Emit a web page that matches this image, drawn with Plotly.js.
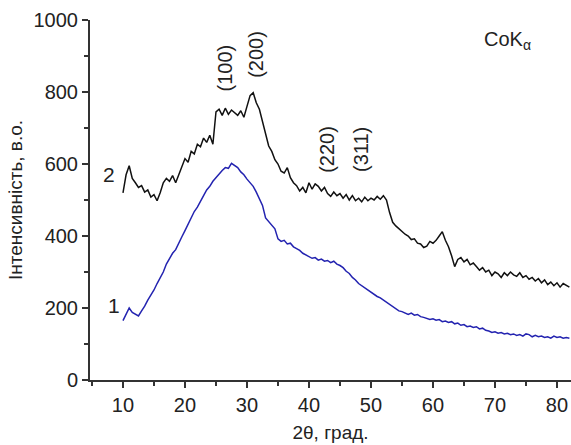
<!DOCTYPE html>
<html>
<head>
<meta charset="utf-8">
<script src="https://cdn.plot.ly/plotly-3.0.1.min.js"></script>
<style>html,body{margin:0;padding:0;background:#fff;}#chart{width:571px;height:445px;}</style>
</head>
<body>
<div id="chart"></div>
<script>
// 2θ angles (degrees) for both patterns
const twoTheta = [10,10.5,11,11.5,12,12.5,13,13.5,14,14.5,15,15.5,16,16.5,17,17.5,18,18.5,19,19.5,
20,20.5,21,21.5,22,22.5,23,23.5,24,24.5,25,25.5,26,26.5,27,27.5,28,28.5,29,29.5,
30,30.5,31,31.5,32,32.5,33,33.5,34,34.5,35,35.5,36,36.5,37,37.5,38,38.5,39,39.5,
40,40.5,41,41.5,42,42.5,43,43.5,44,44.5,45,45.5,46,46.5,47,47.5,48,48.5,49,49.5,
50,50.5,51,51.5,52,52.5,53,53.5,54,54.5,55,55.5,56,56.5,57,57.5,58,58.5,59,59.5,
60,60.5,61,61.5,62,62.5,63,63.5,64,64.5,65,65.5,66,66.5,67,67.5,68,68.5,69,69.5,
70,70.5,71,71.5,72,72.5,73,73.5,74,74.5,75,75.5,76,76.5,77,77.5,78,78.5,79,79.5,
80,80.5,81,81.5,82];

// Curve 1 (blue)
const intensity1 = [165,182,200,188,182,178,192,205,222,235,250,268,285,300,322,338,352,362,382,398,
415,432,450,468,480,498,512,528,538,552,562,575,582,590,588,602,595,590,578,570,
558,548,538,522,505,485,450,440,432,420,392,385,388,378,380,370,365,360,352,348,
342,338,340,333,336,330,332,326,330,322,318,312,302,296,285,278,268,262,255,250,
242,238,232,228,222,216,210,205,198,192,190,186,182,186,180,182,176,174,172,168,
170,166,168,162,164,160,162,156,158,152,154,148,150,146,148,142,144,138,136,132,
134,130,132,128,130,126,128,124,126,122,128,126,120,124,120,122,118,120,116,122,
118,120,116,118,116];

// Curve 2 (black)
const intensity2 = [520,570,595,560,548,535,540,522,528,508,515,498,520,548,560,552,568,548,570,590,
615,605,635,628,655,648,672,660,680,655,745,752,735,755,738,750,742,735,748,730,
760,790,798,770,752,720,680,650,635,612,600,580,575,590,562,548,540,525,535,520,
548,530,545,538,525,535,518,510,522,512,518,505,515,500,512,498,505,495,508,498,
505,500,510,502,512,500,465,438,428,420,412,405,400,390,392,380,378,368,372,385,
380,388,400,412,388,370,345,315,335,340,328,335,320,325,315,305,312,300,305,290,
300,295,285,298,290,300,292,288,298,285,290,280,285,275,282,270,278,265,272,262,
270,258,268,262,258];

// Text labels
const curveLabels = ["1", "2"];
const curveLabelX = [8.55, 7.74];
const curveLabelY = [206, 571];
const peakLabels = ["(100)", "(200)", "(220)", "(311)"];
const peakLabelX = [26.45, 31.56, 43.0, 48.5];
const peakLabelY = [868, 905, 641, 641];
const xTitle = "2θ, град.";
const yTitle = "Інтенсивність, в.о.";
const radiation = "CoK<sub>α</sub>";

const FONT = "Liberation Sans, Arial, sans-serif";
const TXT = "#222";

const traces = [
  {x: twoTheta, y: intensity2, mode: "lines", line: {color: "#111", width: 1.5}, hoverinfo: "skip", showlegend: false},
  {x: twoTheta, y: intensity1, mode: "lines", line: {color: "#2323b0", width: 1.5}, hoverinfo: "skip", showlegend: false}
];

const annotations = [];
curveLabels.forEach((t, i) => annotations.push({
  x: curveLabelX[i], y: curveLabelY[i], xref: "x", yref: "y", text: t, showarrow: false,
  font: {family: FONT, size: 21, color: TXT}, xanchor: "center", yanchor: "middle"
}));
peakLabels.forEach((t, i) => annotations.push({
  x: peakLabelX[i], y: peakLabelY[i], xref: "x", yref: "y", text: t, showarrow: false, textangle: -90,
  font: {family: FONT, size: 20, color: TXT}, xanchor: "center", yanchor: "middle"
}));
annotations.push({
  x: 67.85, y: 944, xref: "x", yref: "y", text: radiation, showarrow: false,
  font: {family: FONT, size: 20, color: TXT}, xanchor: "left", yanchor: "middle"
});

const layout = {
  width: 571, height: 445,
  margin: {l: 90, r: 0, t: 20, b: 65},
  paper_bgcolor: "#fff", plot_bgcolor: "#fff",
  font: {family: FONT, size: 20, color: TXT},
  xaxis: {
    range: [4.68, 82.26], showgrid: false, zeroline: false,
    showline: true, linecolor: "#333", linewidth: 2,
    ticks: "outside", ticklen: 6, tickwidth: 2, tickcolor: "#333",
    tick0: 10, dtick: 10,
    minor: {ticks: "outside", ticklen: 4, tickwidth: 1.5, tickcolor: "#333", dtick: 5, tick0: 5, showgrid: false},
    tickfont: {family: FONT, size: 20, color: TXT},
    title: {text: xTitle, font: {family: FONT, size: 19, color: TXT}, standoff: 11}
  },
  yaxis: {
    range: [0, 1000], showgrid: false, zeroline: false,
    showline: true, linecolor: "#333", linewidth: 2,
    ticks: "outside", ticklen: 6, tickwidth: 2, tickcolor: "#333",
    tick0: 0, dtick: 200,
    minor: {ticks: "outside", ticklen: 4, tickwidth: 1.5, tickcolor: "#333", dtick: 100, showgrid: false},
    tickfont: {family: FONT, size: 20, color: TXT},
    title: {text: yTitle, font: {family: FONT, size: 19, color: TXT}, standoff: 6}
  },
  annotations: annotations
};

Plotly.newPlot("chart", traces, layout, {staticPlot: true, displayModeBar: false});
</script>
</body>
</html>
